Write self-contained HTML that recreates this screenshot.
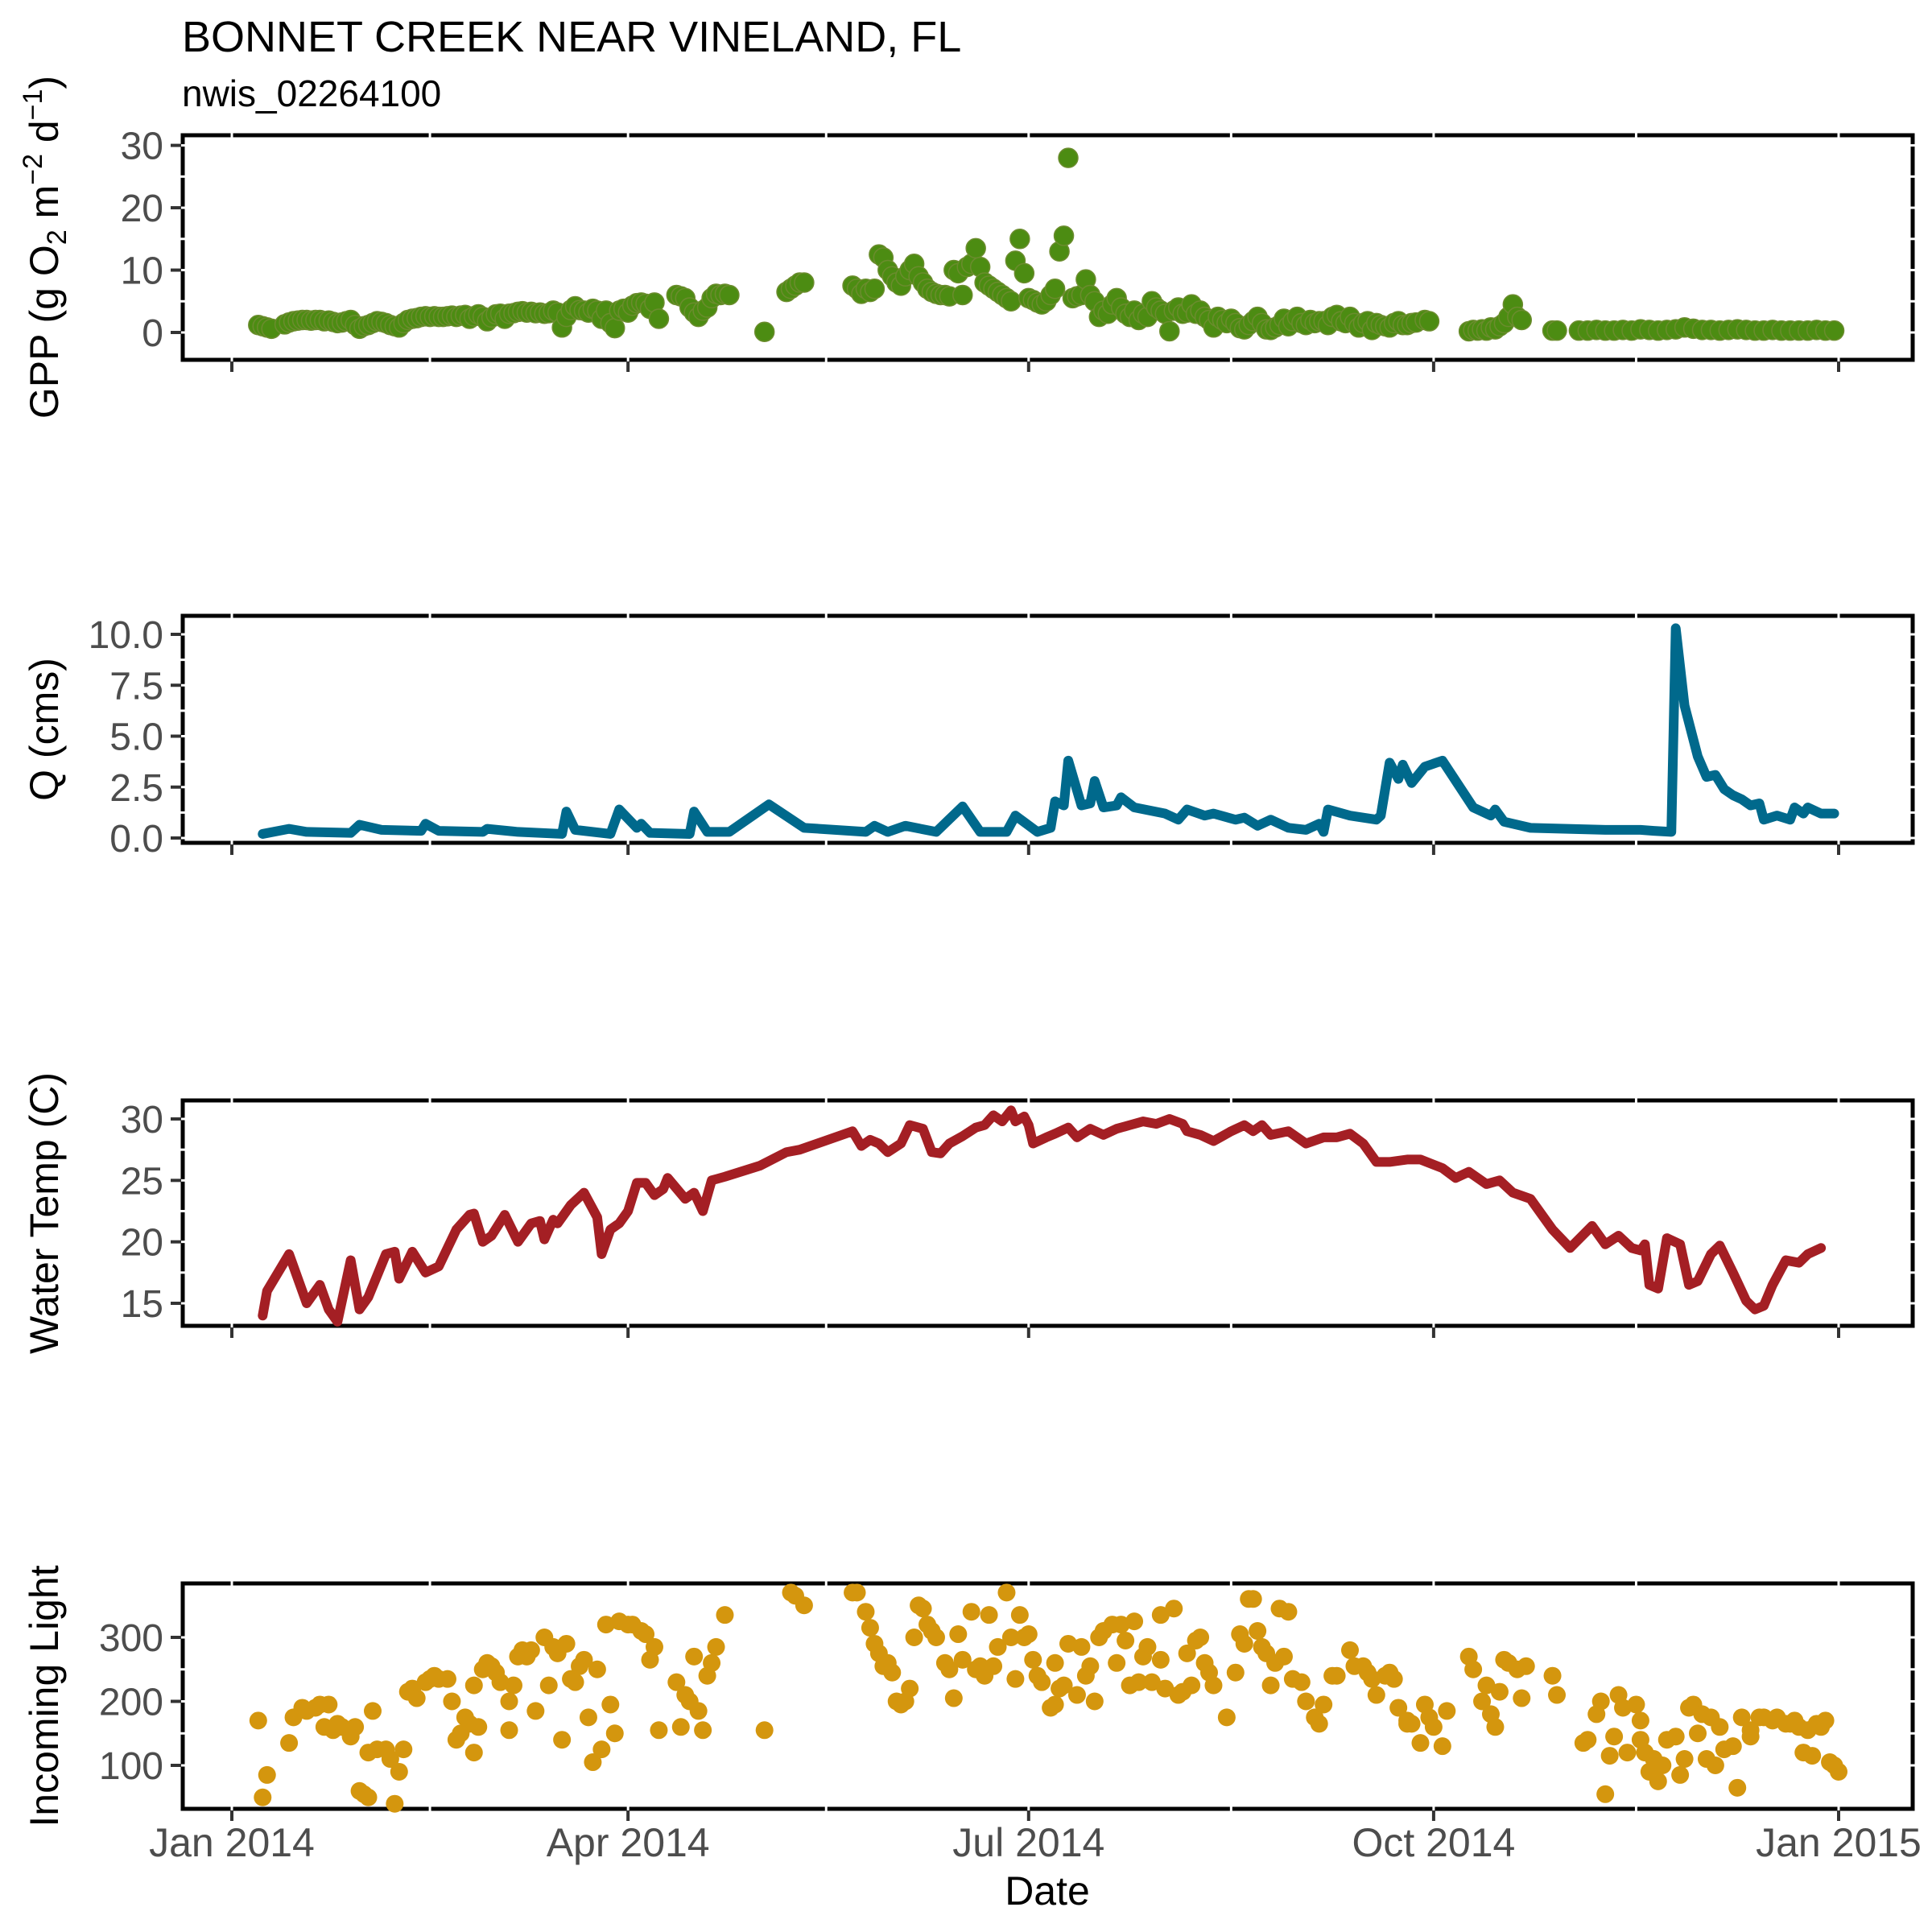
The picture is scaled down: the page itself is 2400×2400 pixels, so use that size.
<!DOCTYPE html>
<html><head><meta charset="utf-8"><style>
html,body{margin:0;padding:0;background:#fff;}
svg{display:block;font-family:"Liberation Sans",Arial,sans-serif;}
</style></head><body>
<svg id="chart" width="2400" height="2400" viewBox="0 0 2400 2400" xmlns="http://www.w3.org/2000/svg">
<rect x="0" y="0" width="2400" height="2400" fill="#fff"/>
<text x="226" y="64" font-size="54" fill="#000">BONNET CREEK NEAR VINELAND, FL</text>
<text x="226" y="132" font-size="46" fill="#000">nwis_02264100</text>
<text x="1301" y="2366" font-size="50" fill="#000" text-anchor="middle">Date</text>
<text transform="translate(72,307) rotate(-90)" font-size="50" fill="#000" text-anchor="middle">GPP (g  O<tspan font-size="34" dy="10">2</tspan><tspan dy="-10"> m</tspan><tspan font-size="34" dy="-20">−2</tspan><tspan dy="20"> d</tspan><tspan font-size="34" dy="-20">−1</tspan><tspan dy="20">)</tspan></text>
<text transform="translate(72,906) rotate(-90)" font-size="50" fill="#000" text-anchor="middle">Q (cms)</text>
<text transform="translate(72,1507) rotate(-90)" font-size="50" fill="#000" text-anchor="middle">Water Temp (C)</text>
<text transform="translate(72,2107) rotate(-90)" font-size="50" fill="#000" text-anchor="middle">Incoming Light</text>
<g id="g"></g>
</svg>
<script>
// ---- data ----
const xTickLabels = ["Jan 2014","Apr 2014","Jul 2014","Oct 2014","Jan 2015"];
const xTickDays = [0,90,181,273,365];
const xMinorDays = [45,135,227,319];

const gppDays = [6,7,8,9,12,13,14,15,16,17,18,19,20,21,22,23,24,25,26,27,28,29,30,31,32,33,34,35,36,37,38,39,40,41,42,43,44,45,46,47,48,49,50,51,52,53,54,55,56,57,58,59,60,61,62,63,64,65,66,67,68,69,70,71,72,73,74,75,76,77,78,79,80,81,82,83,84,85,86,87,88,89,90,91,92,93,94,95,96,97,101,102,103,104,105,106,107,108,109,110,111,112,113,121,126,127,128,129,130,141,142,143,144,145,146,147,148,149,150,151,152,153,154,155,156,157,158,159,160,161,162,163,164,165,166,167,168,169,170,171,172,173,174,175,176,177,178,179,180,181,182,183,184,185,186,187,188,189,190,191,192,193,194,195,196,197,198,199,200,201,202,203,204,205,206,207,208,209,210,211,212,213,214,215,216,217,218,219,220,221,222,223,224,225,226,227,228,229,230,231,232,233,234,235,236,237,238,239,240,241,242,243,244,245,246,247,248,249,250,251,252,253,254,255,256,257,258,259,260,261,262,263,264,265,266,267,268,269,271,272,281,282,283,284,285,286,287,288,289,290,291,292,293,300,301,306,308,310,312,314,316,318,320,322,324,326,328,330,332,334,336,338,340,342,344,346,348,350,352,354,356,358,360,362,364];
const gppValues = [1.2,1,0.8,0.6,1.3,1.6,1.8,1.9,2,2,1.9,2,2,1.8,1.9,1.7,1.5,1.6,1.8,2,1.2,0.6,1.0,1.2,1.5,1.8,1.7,1.5,1.2,1.0,0.8,1.5,2,2.2,2.3,2.5,2.6,2.5,2.6,2.5,2.5,2.6,2.7,2.5,2.7,2.8,2.2,2.6,2.9,2.5,1.8,2.4,2.9,3,2.2,3,3.1,3.3,3.4,3.2,3.3,3.1,3.2,3.0,3.1,3.5,3.2,0.8,2.5,3.6,4.2,3.6,3.5,3.2,3.8,3.5,2.2,3.5,1.5,0.7,3.5,3.8,3.2,4.3,4.7,4.8,4.6,3.8,4.8,2.2,6,5.8,5.5,4,3.2,2.5,3.5,4,5.5,6.2,6,6.2,6,0.1,6.5,7,7.5,8,8,7.5,7,6.2,7,6.5,7,12.5,12,10,9,8,7.5,9,10,11,9,8,7,6.5,6.2,6,6,5.8,10,9.5,6,10.5,11,13.5,10.5,8,7.5,7,6.5,6,5.5,5,11.5,15,9.5,5.5,5.2,4.8,4.5,5,6,7,13,15.5,28,5.5,5.8,6,8.5,6,5,2.5,3.5,3,4.5,5.5,4,3,2.5,3.5,2,3,2.5,5,4,3.5,3,0.2,3.5,4,3,3.2,4.5,3,3.5,2.5,2,0.8,2.5,2,1.5,2.2,1.5,0.7,0.5,1.2,1.8,2.5,1.5,0.5,0.4,0.8,1.2,2.2,1,1.8,2.5,1.5,1.2,2,1.5,1.8,1.8,1.2,2.5,2.8,1.8,1.5,2.5,1.5,0.8,1.5,1.8,0.4,1.5,1.2,1.0,0.8,1.5,1.8,1.2,1.2,1.5,1.6,2,1.8,0.2,0.4,0.3,0.5,0.3,0.8,0.5,1,1.5,2.5,4.5,2.5,2.0,0.3,0.3,0.3,0.3,0.4,0.3,0.3,0.4,0.3,0.5,0.4,0.3,0.4,0.5,0.8,0.6,0.4,0.4,0.3,0.4,0.5,0.4,0.3,0.3,0.4,0.3,0.3,0.3,0.3,0.4,0.3,0.3];

const qDays = [7,13,17,27,29,34,43,44,47,57,58,65,75,76,78,86,88,92,93,95,104,105,108,113,122,130,144,146,149,153,160,166,170,176,178,183,186,187,189,190,193,195,196,198,201,202,205,212,215,217,221,223,228,230,233,236,240,244,247,248,249,254,260,261,263,265,266,268,271,275,282,286,287,289,295,312,320,323,327,328,330,333,335,337,339,341,343,345,347,348,351,354,355,357,358,361,364];
const qValues = [0.2,0.45,0.3,0.25,0.65,0.4,0.35,0.7,0.35,0.3,0.45,0.3,0.2,1.3,0.4,0.2,1.4,0.5,0.7,0.25,0.2,1.3,0.3,0.3,1.65,0.5,0.3,0.6,0.3,0.6,0.3,1.55,0.3,0.3,1.1,0.3,0.5,1.8,1.6,3.8,1.6,1.7,2.8,1.5,1.6,2.0,1.5,1.2,0.9,1.4,1.1,1.2,0.9,1.0,0.6,0.9,0.5,0.4,0.7,0.3,1.4,1.1,0.9,1.1,3.7,2.9,3.6,2.7,3.5,3.8,1.5,1.1,1.4,0.8,0.5,0.4,0.4,0.35,0.3,10.3,6.5,4,3.0,3.1,2.4,2.1,1.9,1.6,1.7,0.9,1.1,0.9,1.5,1.2,1.5,1.2,1.2];

const tempDays = [7,8,13,17,20,22,24,27,29,31,35,37,38,41,44,47,51,54,55,57,59,62,65,68,70,71,73,74,77,80,83,84,86,88,90,92,94,96,98,99,103,105,107,109,112,120,126,129,141,143,145,147,149,152,154,157,159,161,163,166,169,171,173,175,177,178,180,181,182,185,187,190,192,195,198,201,204,207,210,213,216,217,220,223,227,230,232,234,236,240,244,248,251,254,257,260,263,267,270,275,278,281,285,288,291,295,300,304,309,312,315,318,320,321,322,324,326,329,331,333,336,338,341,344,346,348,350,353,356,358,361,364];
const tempValues = [14,16,19,15,16.5,14.5,13.5,18.5,14.5,15.5,19,19.2,17,19.2,17.5,18,21,22.2,22.3,20,20.5,22.2,20,21.5,21.7,20.2,21.8,21.5,23,24,22,19,21,21.5,22.5,24.8,24.8,23.8,24.3,25.2,23.5,24,22.5,25,25.3,26.2,27.3,27.5,29,27.8,28.3,28,27.3,28,29.5,29.2,27.3,27.2,28,28.6,29.3,29.5,30.3,29.8,30.7,29.8,30.2,29.5,28,28.5,28.8,29.3,28.5,29.2,28.7,29.2,29.5,29.8,29.6,30,29.6,29,28.7,28.2,29,29.5,29,29.5,28.7,29,28,28.5,28.5,28.8,28,26.5,26.5,26.7,26.7,26,25.2,25.7,24.7,25,24,23.5,21,19.5,21.3,19.8,20.5,19.5,19.3,19.8,16.5,16.2,20.3,19.8,16.5,16.8,19,19.7,17.5,15.2,14.5,14.8,16.5,18.5,18.3,19,19.5];

const lightDays = [6,7,8,13,14,16,17,19,20,21,22,23,24,25,27,28,29,30,31,31,32,33,35,36,37,38,39,40,41,42,44,45,46,47,49,50,51,52,53,54,55,55,56,57,58,59,60,61,63,63,64,65,66,67,68,69,71,72,73,74,75,76,77,78,79,80,81,82,83,84,85,86,87,88,90,91,93,94,95,96,97,101,102,103,104,105,106,107,108,109,110,112,121,127,128,130,141,142,144,145,146,147,148,149,150,151,152,153,154,155,156,157,158,159,160,162,163,164,165,166,168,169,170,171,172,173,174,176,177,178,179,180,181,182,183,184,186,187,187,188,189,190,192,193,194,195,196,197,198,200,201,202,203,204,205,206,207,208,209,211,211,212,214,215,216,217,218,219,220,221,222,223,226,228,229,230,231,232,233,234,235,236,237,238,239,240,241,243,244,246,247,248,250,251,254,255,257,258,259,260,262,263,264,265,267,267,268,270,271,272,273,275,276,281,282,284,285,286,287,288,289,290,292,293,294,300,301,307,308,310,311,312,313,314,315,316,317,319,320,320,321,322,323,324,325,326,328,329,330,331,332,333,334,335,336,337,338,339,341,342,343,345,345,347,348,350,351,353,354,355,356,357,358,359,360,361,362,363,364,365];
const lightValues = [170,50,85,135,175,190,185,190,195,160,195,155,165,160,145,160,60,55,50,120,185,125,125,110,40,90,125,215,220,205,230,235,240,235,235,200,140,150,175,165,120,225,160,250,260,255,245,230,200,155,225,270,280,270,280,185,300,225,285,275,140,290,235,230,255,265,175,105,250,125,320,195,150,325,320,320,310,305,265,285,155,230,160,210,200,270,185,155,240,260,285,335,155,370,365,350,370,370,340,315,290,275,255,260,245,200,195,200,220,300,350,345,320,310,300,260,250,205,305,265,340,250,255,240,335,255,285,370,300,235,335,300,305,265,240,230,190,195,260,220,225,290,210,285,240,255,200,300,310,320,260,320,295,225,325,230,270,285,230,265,335,220,345,210,215,275,225,295,300,260,245,225,175,245,305,290,360,360,310,285,275,225,260,345,270,340,235,230,200,175,165,195,240,240,280,255,255,245,235,210,240,245,235,190,165,170,165,135,195,175,160,130,185,270,250,200,225,180,160,215,265,260,250,205,255,240,210,135,140,180,200,55,115,145,210,190,120,195,140,170,120,90,110,75,100,140,145,85,110,190,195,150,180,110,175,100,160,125,130,65,175,145,155,175,175,170,175,165,165,170,160,120,155,115,165,160,170,105,100,90];

const gppTicks = [0,10,20,30];
const qTicks = [0,2.5,5,7.5,10];
const qTickLabels = ["0.0","2.5","5.0","7.5","10.0"];
const tempTicks = [15,20,25,30];
const lightTicks = [100,200,300];

// ---- layout / scales ----
const NS = "http://www.w3.org/2000/svg";
const G = document.getElementById('g');
const PX0 = 227, PX1 = 2376;
const xScale = d => 288 + d * (2284 - 288) / 365;
function lin(v0, p0, v1, p1){ return v => p0 + (v - v0) * (p1 - p0) / (v1 - v0); }
const panels = [
  {name:'gpp', top:168, bot:447, y: lin(0,413,30,180.6), ticks:gppTicks, labels:gppTicks.map(String)},
  {name:'q', top:765, bot:1047, y: lin(0,1041,10,788), ticks:qTicks, labels:qTickLabels},
  {name:'temp', top:1367, bot:1647, y: lin(15,1619,30,1390), ticks:tempTicks, labels:tempTicks.map(String)},
  {name:'light', top:1967, bot:2247, y: lin(100,2193,300,2034), ticks:lightTicks, labels:lightTicks.map(String)}
];
function mk(tag, attrs, parent){
  const e = document.createElementNS(NS, tag);
  for (const k in attrs) e.setAttribute(k, attrs[k]);
  (parent || G).appendChild(e);
  return e;
}

panels.forEach((p, pi) => {
  const pg = mk('g', {});
  
  
  p.g = pg;
  const fr = mk('rect', {x:PX0, y:p.top, width:PX1-PX0, height:p.bot-p.top, fill:'none', stroke:'#000', 'stroke-width':5}, pg);
  
  
  xTickDays.concat(xMinorDays).forEach(d => {
    const x = xScale(d);
    mk('line', {x1:x, x2:x, y1:p.top-4, y2:p.top+4, stroke:'#fff', 'stroke-width':3}, pg);
    mk('line', {x1:x, x2:x, y1:p.bot-4, y2:p.bot+4, stroke:'#fff', 'stroke-width':3}, pg);
  });
  const gaps = [];
  for (let i = 0; i < p.ticks.length; i++) {
    gaps.push(p.ticks[i]);
    if (i < p.ticks.length - 1) gaps.push((p.ticks[i] + p.ticks[i+1]) / 2);
  }
  gaps.forEach(v => {
    const y = p.y(v);
    mk('line', {x1:PX0-4, x2:PX0+4, y1:y, y2:y, stroke:'#fff', 'stroke-width':3}, pg);
    mk('line', {x1:PX1-4, x2:PX1+4, y1:y, y2:y, stroke:'#fff', 'stroke-width':3}, pg);
  });
  p.ticks.forEach((v, i) => {
    const y = p.y(v);
    const t = mk('line', {x1:PX0-15, x2:PX0-2, y1:y, y2:y, stroke:'#333', 'stroke-width':4}, pg);
    
    
    const tx = mk('text', {x:PX0-24, y:y+17, 'font-size':48, fill:'#4d4d4d', 'text-anchor':'end'}, pg);
    tx.textContent = p.labels[i];
    
    
  });
  xTickDays.forEach((d, i) => {
    const x = xScale(d);
    const t = mk('line', {x1:x, x2:x, y1:p.bot+2, y2:p.bot+15, stroke:'#333', 'stroke-width':4}, pg);
    
    
    if (pi === 3) {
      const tx = mk('text', {x:x, y:2306, 'font-size':50, fill:'#4d4d4d', 'text-anchor':'middle'}, pg);
      tx.textContent = xTickLabels[i];
      
      
    }
  });
});

// GPP points
gppDays.forEach((d, i) => {
  if (gppValues[i] === undefined) return;
  const c = mk('circle', {cx:xScale(d), cy:panels[0].y(gppValues[i]), r:12, fill:'#4c8c12', stroke:'#6b8c2e', 'stroke-width':1.5}, panels[0].g);
  
  
});
// Q line
const qPath = mk('polyline', {points: qDays.map((d,i) => xScale(d)+','+panels[1].y(qValues[i])).join(' '), fill:'none', stroke:'#00698c', 'stroke-width':12, 'stroke-linejoin':'round', 'stroke-linecap':'round'}, panels[1].g);


// Temp line
const tPath = mk('polyline', {points: tempDays.map((d,i) => xScale(d)+','+panels[2].y(tempValues[i])).join(' '), fill:'none', stroke:'#a41f24', 'stroke-width':12, 'stroke-linejoin':'round', 'stroke-linecap':'round'}, panels[2].g);


// Light points
lightDays.forEach((d, i) => {
  if (lightValues[i] === undefined) return;
  const c = mk('circle', {cx:xScale(d), cy:panels[3].y(lightValues[i]), r:11, fill:'#d4960e'}, panels[3].g);
  
  
});
</script>
</body></html>
